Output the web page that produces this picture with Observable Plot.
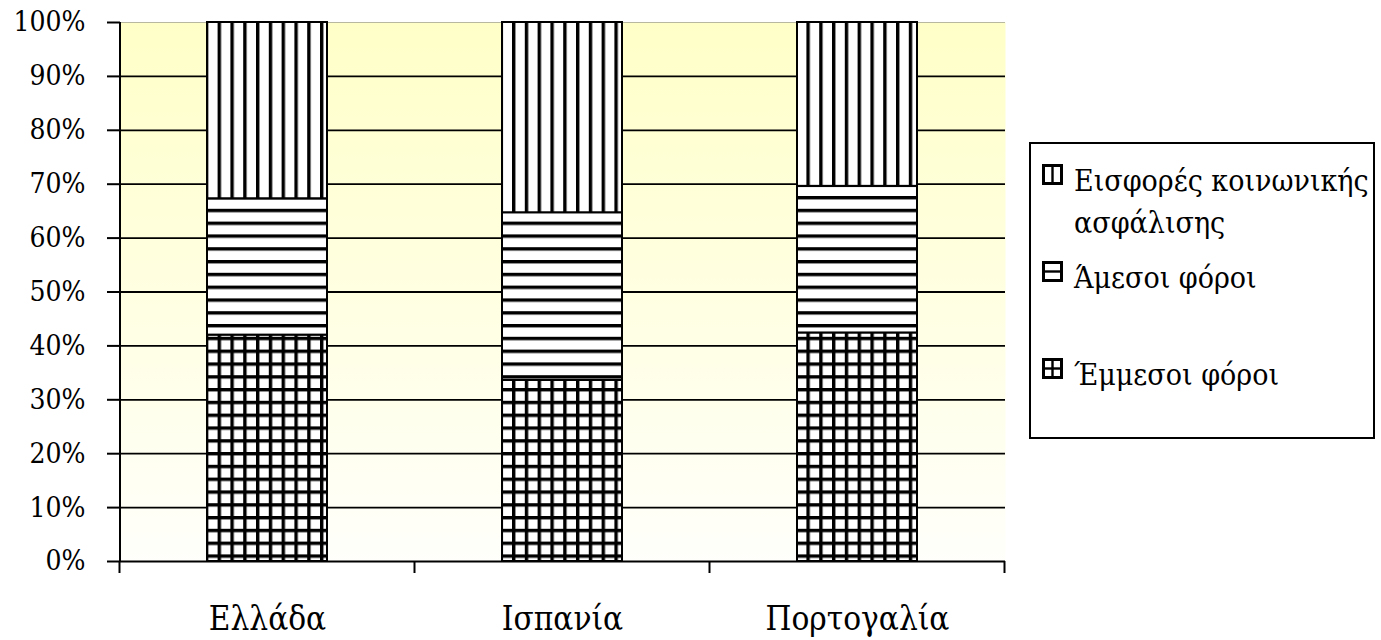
<!DOCTYPE html>
<html>
<head>
<meta charset="utf-8">
<script src="https://cdn.jsdelivr.net/npm/d3@7"></script>
<script src="https://cdn.jsdelivr.net/npm/@observablehq/plot@0.6"></script>
<style>
  body { margin: 0; background: #fff; font-family: 'DejaVu Serif', serif; font-stretch: condensed; }
  #wrap { position: relative; width: 1381px; height: 640px; }
  #legend { position: absolute; left: 1029px; top: 142px; }
  text { font-stretch: condensed; }
</style>
</head>
<body>
<div id="wrap"></div>
<script>
const categories = ["Ελλάδα", "Ισπανία", "Πορτογαλία"];
const seriesNames = ["Έμμεσοι φόροι", "Άμεσοι φόροι", "Εισφορές κοινωνικής ασφάλισης"];
const indirectTaxes = [42.0, 33.6, 42.4];
const directTaxes = [25.3, 31.1, 27.2];
const socialContributions = [32.7, 35.3, 30.4];
const yTicks = [0, 10, 20, 30, 40, 50, 60, 70, 80, 90, 100];

const patternFor = {
  "Έμμεσοι φόροι": "url(#pat-grid)",
  "Άμεσοι φόροι": "url(#pat-horiz)",
  "Εισφορές κοινωνικής ασφάλισης": "url(#pat-vert)"
};

const valuesBySeries = [indirectTaxes, directTaxes, socialContributions];
const data = [];
seriesNames.forEach((s, si) => {
  categories.forEach((c, ci) => data.push({category: c, series: s, value: valuesBySeries[si][ci]}));
});

const W = 1381, H = 640;
const pad = 0.593;
const FONT = "'DejaVu Serif', serif";

const plot = Plot.plot({
  width: W,
  height: H,
  marginLeft: 120,
  marginRight: 376,
  marginTop: 22,
  marginBottom: 79,
  style: {fontFamily: FONT, fontStretch: "condensed", fontSize: "28px", color: "#000", background: "#fff"},
  x: {domain: categories, paddingInner: pad, paddingOuter: pad / 2, label: null},
  y: {domain: [0, 100], label: null},
  color: {type: "identity"},
  marks: [
    Plot.frame({fill: "url(#bg)", stroke: null}),
    Plot.gridY(yTicks.filter(t => t > 0 && t < 100), {stroke: "#000", strokeOpacity: 1, strokeWidth: 1.8}),
    Plot.ruleY([100], {stroke: "#b8b8a0", strokeWidth: 1.2}),
    Plot.barY(data, Plot.stackY({
      x: "category",
      y: "value",
      fill: d => patternFor[d.series],
      stroke: "#000",
      strokeWidth: 2
    })),
    Plot.axisY({ticks: yTicks, tickFormat: d => d + "%", tickSize: 13, tickPadding: 22, fontSize: 28, strokeWidth: 2}),
    Plot.axisX({tickSize: 0, tickPadding: 45, fontSize: 33}),
    Plot.ruleY([0], {stroke: "#000", strokeWidth: 2})
  ]
});

const svg = d3.select(plot);
const defs = svg.insert("defs", ":first-child");
const grad = defs.append("linearGradient").attr("id", "bg").attr("x1", 0).attr("y1", 0).attr("x2", 0).attr("y2", 1);
grad.append("stop").attr("offset", "0%").attr("stop-color", "#ffffc8");
grad.append("stop").attr("offset", "100%").attr("stop-color", "#fffffb");

const P = 12.8, LW = 3.4;
const pv = defs.append("pattern").attr("id", "pat-vert").attr("patternUnits", "userSpaceOnUse").attr("width", P).attr("height", 10);
pv.append("rect").attr("width", P).attr("height", 10).attr("fill", "#fff");
pv.append("rect").attr("x", 0).attr("width", LW).attr("height", 10).attr("fill", "#000");
const ph = defs.append("pattern").attr("id", "pat-horiz").attr("patternUnits", "userSpaceOnUse").attr("width", 10).attr("height", P).attr("y", 4);
ph.append("rect").attr("width", 10).attr("height", P).attr("fill", "#fff");
ph.append("rect").attr("y", 0).attr("width", 10).attr("height", LW).attr("fill", "#000");
const pg = defs.append("pattern").attr("id", "pat-grid").attr("patternUnits", "userSpaceOnUse").attr("width", P).attr("height", P).attr("y", 4);
pg.append("rect").attr("width", P).attr("height", P).attr("fill", "#fff");
pg.append("rect").attr("x", 0).attr("width", LW).attr("height", P).attr("fill", "#000");
pg.append("rect").attr("y", 0).attr("width", P).attr("height", LW).attr("fill", "#000");

const xs = plot.scale("x"), ys = plot.scale("y");
const x0 = xs.range[0];
const yBottom = ys.apply(0), yTop = ys.apply(100);
const g = svg.append("g").attr("stroke", "#000").attr("stroke-width", 2);
g.append("line").attr("x1", x0).attr("x2", x0).attr("y1", yTop).attr("y2", yBottom);
const gap = xs.step - xs.bandwidth;
const bounds = categories.map(c => xs.apply(c) - gap / 2).concat([xs.apply(categories[categories.length - 1]) + xs.bandwidth + gap / 2]);
bounds.forEach(b => g.append("line").attr("x1", b).attr("x2", b).attr("y1", yBottom).attr("y2", yBottom + 12));

document.getElementById("wrap").appendChild(plot);

// legend (separate small SVG, placed to the right of the plot)
const legendItems = [
  {lines: ["Εισφορές κοινωνικής", "ασφάλισης"], kind: "vert", baseline: 49},
  {lines: [seriesNames[1]], kind: "horiz", baseline: 146},
  {lines: [seriesNames[0]], kind: "grid", baseline: 243}
];
const lg = d3.create("svg").attr("id", "legend").attr("width", 346).attr("height", 297)
  .style("font-family", FONT).style("font-stretch", "condensed").style("font-size", "30px");
lg.append("rect").attr("x", 1).attr("y", 1).attr("width", 344).attr("height", 295).attr("fill", "#fff").attr("stroke", "#000").attr("stroke-width", 2);
legendItems.forEach(it => {
  const sy = it.baseline - 27;
  const sw = lg.append("g").attr("transform", `translate(13,${sy})`).attr("stroke", "#000").attr("fill", "none");
  sw.append("rect").attr("x", 1.5).attr("y", 1.5).attr("width", 18).attr("height", 18).attr("fill", "#fff").attr("stroke-width", 3);
  if (it.kind === "vert" || it.kind === "grid") sw.append("line").attr("x1", 10.5).attr("x2", 10.5).attr("y1", 1).attr("y2", 20).attr("stroke-width", 2.4);
  if (it.kind === "horiz" || it.kind === "grid") sw.append("line").attr("x1", 1).attr("x2", 20).attr("y1", 10.5).attr("y2", 10.5).attr("stroke-width", 2.4);
  it.lines.forEach((ln, i) => {
    lg.append("text").attr("x", 45).attr("y", it.baseline + i * 42).attr("fill", "#000").text(ln);
  });
});
document.getElementById("wrap").appendChild(lg.node());
</script>
</body>
</html>
